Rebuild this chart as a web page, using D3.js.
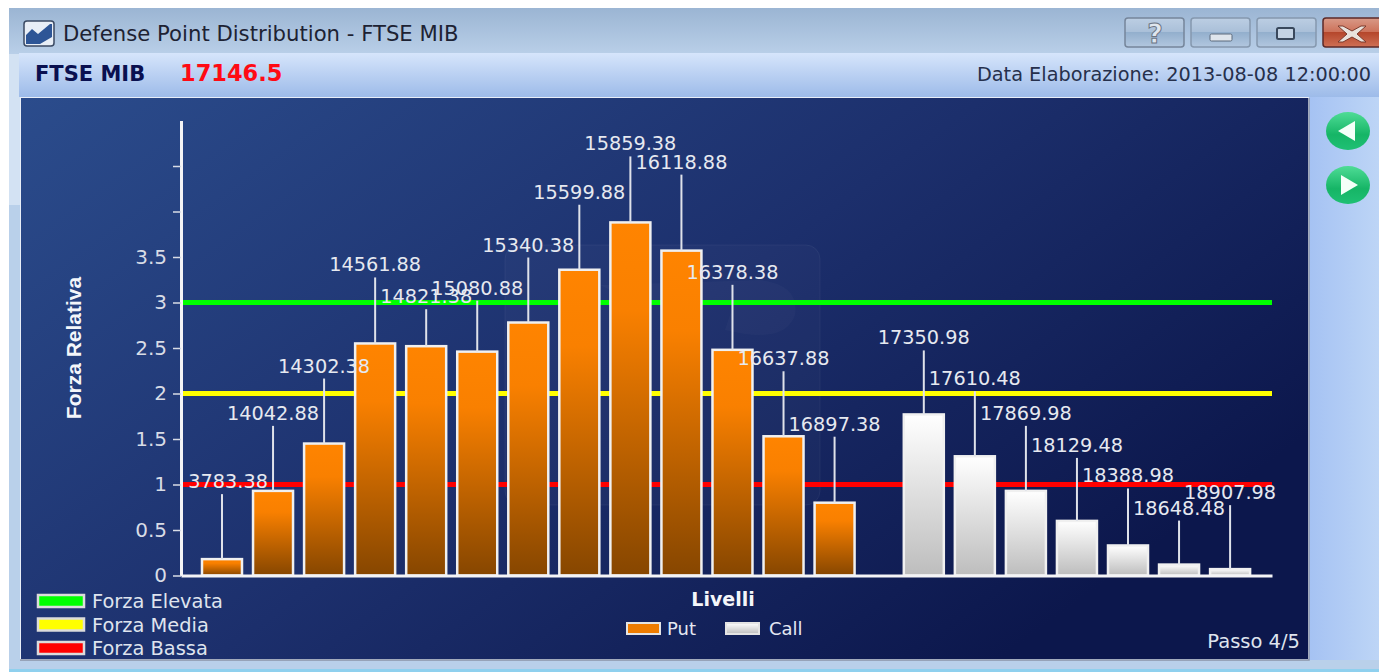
<!DOCTYPE html>
<html>
<head>
<meta charset="utf-8">
<script src="https://cdn.jsdelivr.net/npm/d3@7"></script>
<style>
	html, body { margin: 0; padding: 0; background: #fff; overflow: hidden; }
	svg { display: block; }
	text { font-family: "DejaVu Sans", sans-serif; }
</style>
</head>
<body>
<div id="chart"></div>
<script>
const putLevels = [13783.38, 14042.88, 14302.38, 14561.88, 14821.38, 15080.88, 15340.38, 15599.88, 15859.38, 16118.88, 16378.38, 16637.88, 16897.38];
const putValues = [0.18, 0.93, 1.45, 2.55, 2.52, 2.46, 2.78, 3.36, 3.88, 3.57, 2.48, 1.53, 0.80];
const callLevels = [17350.98, 17610.48, 17869.98, 18129.48, 18388.98, 18648.48, 18907.98];
const callValues = [1.77, 1.31, 0.93, 0.60, 0.33, 0.12, 0.07];
const yTicks = [0, 0.5, 1, 1.5, 2, 2.5, 3, 3.5, 4, 4.5];
const yTickLabels = ["0", "0.5", "1", "1.5", "2", "2.5", "3", "3.5", "", ""];
const strengthNames = ["Forza Elevata", "Forza Media", "Forza Bassa"];
const strengthValues = [3, 2, 1];

// leader line length above each bar, the labels were moved by hand to dodge each other
const putStems = [65, 65, 65, 66, 37, 51, 65, 65, 66, 76, 65, 65, 66];
const callStems = [64, 65, 65, 63, 57, 44, 64];
const strengthColors = ["#00ff00", "#ffff00", "#ff0000"];

const width = 1379, height = 672;
const svg = d3.select("#chart").append("svg").attr("width", width).attr("height", height);
const defs = svg.append("defs");

function gradient(id, stops, x2 = 0, y2 = 1) {
	const g = defs.append("linearGradient").attr("id", id)
		.attr("x1", 0).attr("y1", 0).attr("x2", x2).attr("y2", y2);
	stops.forEach(s => g.append("stop").attr("offset", s[0]).attr("stop-color", s[1]));
}
gradient("titleGrad", [[0, "#9bb5d3"], [1, "#b9cfe8"]]);
gradient("toolGrad", [[0, "#d6e5fb"], [1, "#9dbbe9"]]);
gradient("sideGrad", [[0, "#a5c2f3"], [1, "#bdd5f6"]], 1, 0);
gradient("panelGrad", [[0, "#2b4c8c"], [0.55, "#1c2f6c"], [1, "#0c174c"]], 1, 0.6);
gradient("putGrad", [[0, "#ff8400"], [0.25, "#f98000"], [1, "#864600"]]);
gradient("callGrad", [[0, "#ffffff"], [1, "#bdbdbd"]]);
gradient("btnGrad", [[0, "#bccee3"], [0.5, "#a9bfd8"], [0.5, "#93afcd"], [1, "#b2c7df"]]);
gradient("closeGrad", [[0, "#d99a88"], [0.5, "#cc7058"], [0.5, "#b5472c"], [1, "#cf7055"]]);
gradient("greenGrad", [[0, "#4fdc96"], [0.6, "#16b566"], [1, "#1fc074"]]);

// window frame
svg.append("rect").attr("x", 9).attr("y", 8).attr("width", width - 9).attr("height", height - 8).attr("fill", "#b9d0ea");
svg.append("rect").attr("x", 9).attr("y", 54).attr("width", 11).attr("height", 151).attr("fill", "#d3e2f3");
svg.append("rect").attr("x", 9).attr("y", 8).attr("width", width - 9).attr("height", 46).attr("fill", "url(#titleGrad)");
svg.append("rect").attr("x", 19).attr("y", 53).attr("width", width - 19).attr("height", 44).attr("fill", "url(#toolGrad)");
svg.append("rect").attr("x", 1308).attr("y", 97).attr("width", width - 1308).attr("height", 563).attr("fill", "url(#sideGrad)");
svg.append("rect").attr("x", 9).attr("y", 669).attr("width", width - 9).attr("height", 3).attr("fill", "#8fd0ee");

// title bar icon and text
const icon = svg.append("g");
icon.append("rect").attr("x", 24).attr("y", 21).attr("width", 30).attr("height", 25).attr("rx", 3)
	.attr("fill", "#e8eef6").attr("stroke", "#3b4a63").attr("stroke-width", 1.5);
icon.append("path").attr("d", "M26,44 L26,35 L32,29 L38,34 L50,24 L52,24 L52,37 L40,44 Z").attr("fill", "#2d5596");

svg.append("text").attr("x", 63).attr("y", 41).attr("font-size", 21.2).attr("fill", "#1d2233")
	.text("Defense Point Distribution - FTSE MIB");
svg.append("text").attr("x", 35).attr("y", 81).attr("font-size", 21).attr("font-weight", "bold")
	.attr("fill", "#0a1050").text("FTSE MIB");
svg.append("text").attr("x", 180).attr("y", 81).attr("font-size", 22.5).attr("font-weight", "bold")
	.attr("fill", "#ff0a14").text("17146.5");
svg.append("text").attr("x", 1371).attr("y", 81).attr("font-size", 19.3).attr("text-anchor", "end")
	.attr("fill", "#26304c").text("Data Elaborazione: 2013-08-08 12:00:00");

// window buttons
const buttons = [
	{ x: 1125, w: 59, grad: "btnGrad", stroke: "#75859a" },
	{ x: 1191, w: 59, grad: "btnGrad", stroke: "#8598ae" },
	{ x: 1257, w: 59, grad: "btnGrad", stroke: "#8598ae" },
	{ x: 1323, w: 60, grad: "closeGrad", stroke: "#5c2a28" }
];
svg.selectAll(".winBtn").data(buttons).join("rect").attr("class", "winBtn")
	.attr("x", d => d.x).attr("y", 18).attr("width", d => d.w).attr("height", 29).attr("rx", 3)
	.attr("fill", d => `url(#${d.grad})`).attr("stroke", d => d.stroke).attr("stroke-width", 1.5);
svg.append("text").attr("x", 1155).attr("y", 43).attr("font-size", 27).attr("font-weight", "bold")
	.attr("text-anchor", "middle").attr("fill", "#dfe6ee").attr("stroke", "#6c7584").attr("stroke-width", 1).text("?");
svg.append("rect").attr("x", 1210).attr("y", 34).attr("width", 22).attr("height", 7).attr("rx", 1.5)
	.attr("fill", "#dfe5ec").attr("stroke", "#5d6b7c");
svg.append("rect").attr("x", 1277).attr("y", 28).attr("width", 17).attr("height", 11).attr("rx", 1.5)
	.attr("fill", "#c4d3e4").attr("stroke", "#39485c").attr("stroke-width", 2);
svg.append("path").attr("d", "M1343,26 L1352,31 L1361,26 L1366,26 L1357,34 L1366,42 L1361,42 L1352,37 L1343,42 L1338,42 L1347,34 L1338,26 Z")
	.attr("fill", "#e8e2dc").attr("stroke", "#7c3a2c");

// next / previous buttons
const navButtons = [{ cy: 131, dir: -1 }, { cy: 185, dir: 1 }];
svg.selectAll(".navBtn").data(navButtons).join("ellipse").attr("class", "navBtn")
	.attr("cx", 1348).attr("cy", d => d.cy).attr("rx", 22).attr("ry", 19).attr("fill", "url(#greenGrad)");
svg.selectAll(".navArrow").data(navButtons).join("path").attr("class", "navArrow")
	.attr("d", d => `M${1348 + d.dir * 10},${d.cy} L${1348 - d.dir * 7},${d.cy - 10} L${1348 - d.dir * 7},${d.cy + 10} Z`)
	.attr("fill", "#f4fff8");

// chart panel
svg.append("rect").attr("x", 20.5).attr("y", 97.5).attr("width", 1288).attr("height", 562)
	.attr("fill", "url(#panelGrad)").attr("stroke", "#e8eef8");
svg.append("path").attr("d", "M1309,98 V660 H20").attr("fill", "none").attr("stroke", "#8a94a8").attr("stroke-width", 1.5);

// faint logo behind the bars
const watermark = svg.append("g").attr("fill", "#fff").attr("fill-opacity", 0.025);
watermark.append("rect").attr("x", 505).attr("y", 245).attr("width", 315).attr("height", 260).attr("rx", 14)
	.attr("stroke", "#fff").attr("stroke-opacity", 0.05);
watermark.append("path").attr("d", "M600,285 L760,280 Q800,285 795,315 Q785,345 725,330 L735,300 L640,305 Z");

const x = d3.scaleLinear().domain([13575, 19121]).range([181, 1272]);
const y = d3.scaleLinear().domain([0, 5]).range([575.5, 120.5]);
const barWidth = 40;

const puts = putLevels.map((level, i) => ({ level, value: putValues[i], stem: putStems[i], fill: "url(#putGrad)" }));
const calls = callLevels.map((level, i) => ({ level, value: callValues[i], stem: callStems[i], fill: "url(#callGrad)" }));
const allBars = puts.concat(calls);

const plot = svg.append("g");

// strength reference lines
const strengths = strengthNames.map((name, i) => ({ name, value: strengthValues[i], color: strengthColors[i] }));
plot.selectAll(".strength").data(strengths).join("line").attr("class", "strength")
	.attr("x1", x.range()[0]).attr("x2", x.range()[1])
	.attr("y1", d => y(d.value)).attr("y2", d => y(d.value))
	.attr("stroke", d => d.color).attr("stroke-width", 5);

plot.selectAll(".bar").data(allBars).join("rect").attr("class", "bar")
	.attr("x", d => x(d.level) - barWidth / 2)
	.attr("y", d => y(d.value))
	.attr("width", barWidth)
	.attr("height", d => y(0) - y(d.value))
	.attr("fill", d => d.fill)
	.attr("stroke", "#f0f0f0").attr("stroke-width", 2.5);

plot.selectAll(".stem").data(allBars).join("line").attr("class", "stem")
	.attr("x1", d => x(d.level)).attr("x2", d => x(d.level))
	.attr("y1", d => y(d.value)).attr("y2", d => y(d.value) - d.stem)
	.attr("stroke", "#dfe2ea").attr("stroke-width", 2);

// axes
const yAxis = d3.axisLeft(y).tickValues(yTicks).tickSizeInner(8).tickSizeOuter(0).tickPadding(6)
	.tickFormat((d, i) => yTickLabels[i]);
const yAxisGroup = svg.append("g").attr("transform", `translate(${x.range()[0]},0)`).call(yAxis);
yAxisGroup.select(".domain").attr("stroke", "#f4f4f6").attr("stroke-width", 3);
yAxisGroup.selectAll(".tick line").attr("stroke", "#d8dce6").attr("stroke-width", 1.5);
yAxisGroup.selectAll(".tick text").attr("fill", "#d8dce6").attr("font-size", 20)
	.style("font-family", "'DejaVu Sans', sans-serif");

const xAxis = d3.axisBottom(x).tickValues([]).tickSize(0);
const xAxisGroup = svg.append("g").attr("transform", `translate(0,${y(0)})`).call(xAxis);
xAxisGroup.select(".domain").attr("stroke", "#f4f4f6").attr("stroke-width", 3);

// the first label runs under the axis in the original
defs.append("clipPath").attr("id", "labelClip").append("rect")
	.attr("x", x.range()[0] + 6).attr("y", 100).attr("width", 1120).attr("height", 500);
plot.append("g").attr("clip-path", "url(#labelClip)")
	.selectAll(".level").data(allBars).join("text").attr("class", "level")
	.attr("x", d => x(d.level))
	.attr("y", d => y(d.value) - d.stem - 6)
	.attr("text-anchor", "middle")
	.attr("font-size", 19.3).attr("fill", "#e6e9f0")
	.text(d => d.level.toFixed(2));

// titles
svg.append("text").attr("transform", "translate(81,348) rotate(-90)")
	.attr("text-anchor", "middle").attr("font-size", 21).attr("font-weight", "bold")
	.style("font-family", "'Liberation Sans', sans-serif")
	.attr("fill", "#f4f6fa").text("Forza Relativa");
svg.append("text").attr("x", 723).attr("y", 606).attr("text-anchor", "middle")
	.attr("font-size", 19).attr("font-weight", "bold").attr("fill", "#f4f6fa").text("Livelli");
svg.append("text").attr("x", 1300).attr("y", 648).attr("text-anchor", "end")
	.attr("font-size", 19.5).attr("fill", "#dfe4ee").text("Passo 4/5");

// strength legend
const legendRow = d3.scalePoint().domain(strengthNames).range([601, 648]);
svg.selectAll(".legendBox").data(strengths).join("rect").attr("class", "legendBox")
	.attr("x", 38).attr("y", d => legendRow(d.name) - 6).attr("width", 46).attr("height", 12)
	.attr("fill", d => d.color).attr("stroke", "#dcdcdc").attr("stroke-width", 2.5);
svg.selectAll(".legendText").data(strengths).join("text").attr("class", "legendText")
	.attr("x", 92).attr("y", d => legendRow(d.name) + 7)
	.attr("font-size", 19.4).attr("fill", "#dfe4ee").text(d => d.name);

// series legend
const seriesLegend = [
	{ name: "Put", x: 627, fill: "#ee7c00", tx: 667 },
	{ name: "Call", x: 726, fill: "url(#callGrad)", tx: 769 }
];
svg.selectAll(".seriesBox").data(seriesLegend).join("rect").attr("class", "seriesBox")
	.attr("x", d => d.x).attr("y", 623).attr("width", 33).attr("height", 11)
	.attr("fill", d => d.fill).attr("stroke", "#e4e4e4").attr("stroke-width", 2);
svg.selectAll(".seriesText").data(seriesLegend).join("text").attr("class", "seriesText")
	.attr("x", d => d.tx).attr("y", 635)
	.attr("font-size", 18).attr("fill", "#e4e8f2").text(d => d.name);
</script>
</body>
</html>
